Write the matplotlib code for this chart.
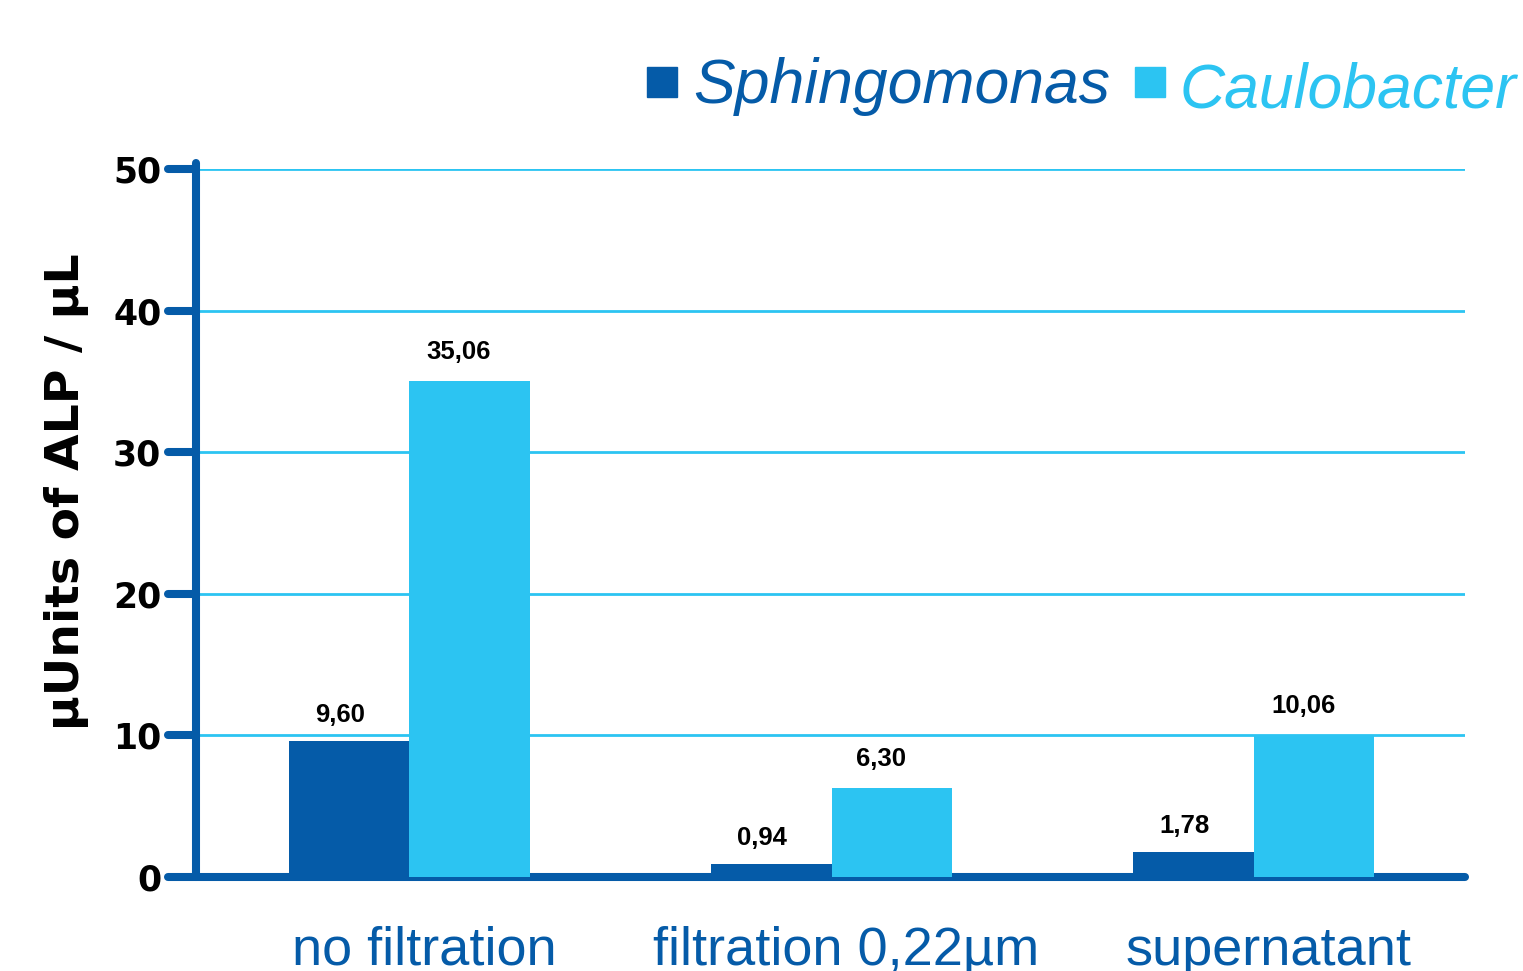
import matplotlib
matplotlib.use("Agg")
import matplotlib.pyplot as plt
import numpy as np
from matplotlib.patches import Rectangle

categories = ["no filtration", "filtration 0,22\u00b5m", "supernatant"]
series_names = ["Sphingomonas", "Caulobacter"]
sphingomonas = [9.60, 0.94, 1.78]
caulobacter = [35.06, 6.30, 10.06]
value_labels_s = ["9,60", "0,94", "1,78"]
value_labels_c = ["35,06", "6,30", "10,06"]
yticks = [0, 10, 20, 30, 40, 50]

DARK = "#055BA8"
LIGHT = "#2CC4F2"

fig = plt.figure(figsize=(15.23, 9.71), dpi=100)
ax = fig.add_axes([196/1523, 1-877/971, (1465-196)/1523, (877-169)/971])

x = np.arange(len(categories))
w = 0.285
ax.bar(x - w/2, sphingomonas, w, color=DARK, zorder=3)
ax.bar(x + w/2, caulobacter, w, color=LIGHT, zorder=3)

for xi, v, lab in zip(x - w/2, sphingomonas, value_labels_s):
    ax.annotate(lab, (xi, v), xytext=(-9, 14), textcoords="offset pixels",
                ha="center", va="bottom", fontsize=18.5, fontweight="bold",
                family="Liberation Sans", color="black")
for xi, v, lab in zip(x + w/2, caulobacter, value_labels_c):
    ax.annotate(lab, (xi, v), xytext=(-11, 17), textcoords="offset pixels",
                ha="center", va="bottom", fontsize=18.5, fontweight="bold",
                family="Liberation Sans", color="black")

ax.set_xlim(-0.505, 2.5)
ax.set_ylim(0, 50)
ax.set_yticks(yticks)
ax.yaxis.grid(True, color=LIGHT, linewidth=2, zorder=0)
ax.set_axisbelow(True)

for s in ["top", "right"]:
    ax.spines[s].set_visible(False)
for s in ["left", "bottom"]:
    ax.spines[s].set_color(DARK)
    ax.spines[s].set_linewidth(5.8)
    ax.spines[s].set_capstyle("round")
ax.spines["left"].set_bounds(0, 50.4)

ax.tick_params(axis="y", length=0, pad=25, labelsize=25)
ax.tick_params(axis="x", length=0, pad=35)
trans = matplotlib.transforms.blended_transform_factory(ax.transAxes, ax.transData)
for t in yticks:
    ax.plot([-0.022, 0], [t, t], color=DARK, lw=5.8, solid_capstyle="round",
            transform=trans, clip_on=False, zorder=5)

for lab in ax.get_yticklabels():
    lab.set_fontweight("heavy")
    lab.set_family("DejaVu Sans")
    lab.set_color("black")

ax.set_xticks(x + 0.035)
ax.set_xticklabels(categories, fontsize=39, color=DARK, family="Liberation Sans")

fig.text(67/1523, 1-492/971, "\u00b5Units of ALP / \u00b5L", rotation=90,
         ha="center", va="center", fontsize=34, fontweight="bold",
         family="DejaVu Sans", color="black")

# legend
fig.patches.append(Rectangle((647/1523, 1-97/971), 30/1523, 30/971,
                             transform=fig.transFigure, color=DARK))
fig.patches.append(Rectangle((1135/1523, 1-97/971), 30/1523, 30/971,
                             transform=fig.transFigure, color=LIGHT))
fig.text(693/1523, 1-103/971, series_names[0], fontsize=45, style="italic",
         color=DARK, family="Liberation Sans", ha="left", va="baseline")
fig.text(1180/1523, 1-108/971, series_names[1], fontsize=45, style="italic",
         color=LIGHT, family="Liberation Sans", ha="left", va="baseline")

fig.savefig("out.png", dpi=100)
